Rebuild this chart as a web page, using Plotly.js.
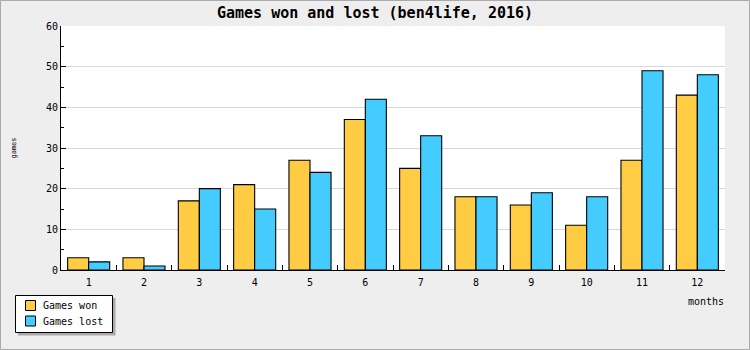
<!DOCTYPE html>
<html>
<head>
<meta charset="utf-8">
<script src="https://cdn.plot.ly/plotly-3.0.1.min.js"></script>
<style>
html,body{margin:0;padding:0;background:#eeeeee;}
#chart{width:750px;height:350px;}
</style>
</head>
<body>
<div id="chart"></div>
<script>
var months = ["1","2","3","4","5","6","7","8","9","10","11","12"];
var gamesWon = [3,3,17,21,27,37,25,18,16,11,27,43];
var gamesLost = [2,1,20,15,24,42,33,18,19,18,49,48];
var seriesNames = ["Games won","Games lost"];
var seriesColors = ["#ffcc44","#44ccff"];
var yTicks = [0,10,20,30,40,50,60];

var mono = "DejaVu Sans Mono, monospace";

// plot area in pixels: x 61..725, y 26..270
var L = 61, R = 725, T = 26, B = 270;
function px(x){ return (x - L) / (R - L); }
function py(y){ return (B - y) / (B - T); }

var traces = [
  {type:"bar", name:seriesNames[0], x:months, y:gamesWon,
   marker:{color:seriesColors[0], line:{color:"#000000", width:1.1}}},
  {type:"bar", name:seriesNames[1], x:months, y:gamesLost,
   marker:{color:seriesColors[1], line:{color:"#000000", width:1.1}}}
];

var shapes = [
  // outer border
  {type:"rect", xref:"paper", yref:"paper", x0:px(0.5), x1:px(749.5), y0:py(349.5), y1:py(0.5),
   fillcolor:"rgba(0,0,0,0)", line:{color:"#aaaaaa", width:1}, layer:"below"},
  // legend shadow
  {type:"rect", xref:"paper", yref:"paper", x0:px(18), x1:px(115.5), y0:py(298), y1:py(335.5),
   fillcolor:"#aaaaaa", line:{width:0}, layer:"above"},
  // legend box
  {type:"rect", xref:"paper", yref:"paper", x0:px(15.5), x1:px(112.5), y0:py(295.5), y1:py(332.5),
   fillcolor:"#ffffff", line:{color:"#000000", width:1}, layer:"above"}
];
var annotations = [
  {text:"months", xref:"paper", yref:"paper", x:px(725), y:py(301), xanchor:"right", yanchor:"middle",
   showarrow:false, font:{family:mono, size:10}, borderpad:0}
];
seriesNames.forEach(function(name, i){
  var cy = 305.5 + i*15.5;
  shapes.push({type:"rect", xref:"paper", yref:"paper", x0:px(25.5), x1:px(35.5), y0:py(cy-5), y1:py(cy+5),
    fillcolor:seriesColors[i], line:{color:"#000000", width:1}, layer:"above"});
  annotations.push({text:name, xref:"paper", yref:"paper", x:px(42), y:py(cy), xanchor:"left", yanchor:"middle",
    showarrow:false, font:{family:mono, size:10}, borderpad:0});
});

var layout = {
  width:750, height:350,
  paper_bgcolor:"#eeeeee", plot_bgcolor:"#ffffff",
  margin:{l:L, r:750-R, t:T, b:350-B, pad:0, autoexpand:false},
  font:{family:mono, size:10, color:"#000000"},
  title:{text:"Games won and lost (ben4life, 2016)", font:{family:mono, size:15, weight:"bold", color:"#000"},
         x:0.5, xref:"container", y:1-13/350, yref:"container", yanchor:"middle"},
  barmode:"group", bargap:0.24, bargroupgap:0,
  showlegend:false,
  xaxis:{type:"category", tickson:"boundaries", ticks:"inside", ticklen:5, tickcolor:"#000",
         showline:true, linecolor:"#000", linewidth:1, showgrid:false, zeroline:false,
         tickfont:{family:mono, size:10}, ticklabelstandoff:3, fixedrange:true,
         title:{text:""}},
  yaxis:{range:[0,60], tickvals:yTicks, ticks:"inside", ticklen:5, tickcolor:"#000",
         showline:true, linecolor:"#000", linewidth:1, showgrid:true, gridcolor:"#d8d8d8",
         zeroline:false, tickfont:{family:mono, size:10},
         minor:{dtick:5, ticks:"inside", ticklen:3, tickcolor:"#000", showgrid:false},
         title:{text:"games", font:{family:mono, size:7, color:"#000"}, standoff:28}},
  annotations:annotations,
  shapes:shapes
};

Plotly.newPlot("chart", traces, layout, {displayModeBar:false, staticPlot:true});
</script>
</body>
</html>
